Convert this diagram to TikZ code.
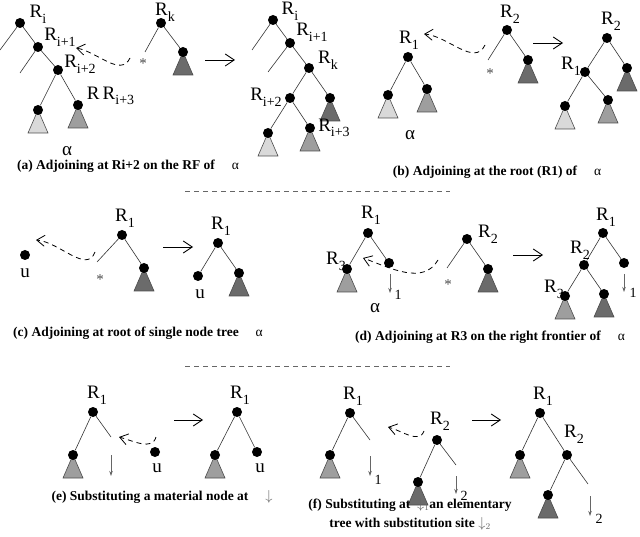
\documentclass[tikz,border=0pt]{standalone}
\usepackage{fontspec}
\setmainfont{Liberation Serif}
\usetikzlibrary{arrows.meta}
\pgfdeclarelayer{bg}
\pgfsetlayers{bg,main}
\definecolor{lite}{gray}{0.85}
\definecolor{midg}{gray}{0.62}
\definecolor{dark}{gray}{0.42}
\newcommand\R[1]{R\raisebox{-0.3em}{\fontsize{14}{14}\selectfont #1}}
\newcommand\subtree[2]{\begin{pgfonlayer}{bg}\draw[tri,fill=#2] (#1.center) -- ++(-10,23) -- ++(20,0) -- cycle;\end{pgfonlayer}}
\tikzset{
  dot/.style={circle, fill=black, inner sep=0pt, minimum size=10pt},
  lab/.style={font=\fontsize{19}{19}\selectfont, inner sep=0pt},
  star/.style={font=\fontsize{15}{15}\selectfont, inner sep=0pt, black!70},
  tri/.style={draw=black!70, line width=0.6pt},
  br/.style={draw=black!80, line width=0.6pt},
  adj/.style={dash pattern=on 5pt off 4pt, line width=0.8pt, -{Straight Barb[length=8pt,width=11pt]}},
  go/.style={line width=0.9pt, -{Straight Barb[length=9pt,width=12pt]}},
  sub/.style={black!60, line width=0.7pt, -{Stealth[length=5pt,width=3.5pt]}},
  caption/.style={font=\bfseries\fontsize{13.5}{18}\selectfont, align=center},
  sep/.style={black!60, line width=0.6pt, dash pattern=on 5pt off 4pt},
}
\begin{document}
\begin{tikzpicture}[x=1pt,y=-1pt]
\useasboundingbox (0,0) rectangle (640,537);

% (a) adjoining on the right frontier
\node[dot] (aRi) at (20,23) {};
\node[dot] (aRa) at (38,47) {};
\node[dot] (aRb) at (58,70) {};
\node[dot] (aLc) at (38,110) {};
\node[dot] (aRc) at (78,105) {};
\coordinate (aRiL) at (0,50);
\coordinate (aRaL) at (20,73);
\subtree{aLc}{lite}
\subtree{aRc}{midg}
\begin{pgfonlayer}{bg}
\draw[br] (aRi)--(aRiL) (aRi)--(aRa) (aRa)--(aRaL) (aRa)--(aRb) (aRb)--(aLc) (aRb)--(aRc);
\end{pgfonlayer}
\node[lab] at (38,14) {\R{i}};
\node[lab] at (60,37) {\R{i+1}};
\node[lab] at (80,64) {\R{i+2}};
\node[lab] at (102,96) {R\,\R{i+3}\hspace*{-0.9em}};
\node[lab] at (67,151) {α};

\node[dot] (aRk) at (161,23) {};
\node[dot] (aKc) at (183,52) {};
\coordinate (aStar) at (145,52);
\subtree{aKc}{dark}
\begin{pgfonlayer}{bg}
\draw[br] (aRk)--(aStar) (aRk)--(aKc);
\end{pgfonlayer}
\node[lab] at (165,12) {\R{k}};
\node[star] at (143,64) {*};
\coordinate (aFrom) at (130,58);
\coordinate (aTo) at (76,48);
\draw[adj] (aFrom) to[out=-115,in=-10] (aTo);
\coordinate (aGo1) at (205,60);
\coordinate (aGo2) at (235,60);
\draw[go] (aGo1)--(aGo2);

\node[dot] (bRi) at (273,20) {};
\node[dot] (bRa) at (290,43) {};
\node[dot] (bRk) at (309,68) {};
\node[dot] (bRb) at (290,98) {};
\node[dot] (bKc) at (330,98) {};
\node[dot] (bLc) at (268,133) {};
\node[dot] (bRc) at (310,128) {};
\coordinate (bRiL) at (252,50);
\coordinate (bRaL) at (268,72);
\subtree{bKc}{dark}
\subtree{bLc}{lite}
\subtree{bRc}{midg}
\begin{pgfonlayer}{bg}
\draw[br] (bRi)--(bRiL) (bRi)--(bRa) (bRa)--(bRaL) (bRa)--(bRk) (bRk)--(bRb) (bRk)--(bKc) (bRb)--(bLc) (bRb)--(bRc);
\end{pgfonlayer}
\node[lab] at (290,11) {\R{i}};
\node[lab] at (312,32) {\R{i+1}};
\node[lab] at (328,60) {\R{k}};
\node[lab] at (266,97) {\R{i+2}};
\node[lab] at (334,128) {\R{i+3}};
\node[caption] at (128,166) {(a) Adjoining at Ri+2 on the RF of \quad\mdseries α};

% (b) adjoining at the root
\node[dot] (cR1) at (408,57) {};
\node[dot] (cL) at (388,95) {};
\node[dot] (cR) at (427,89) {};
\subtree{cL}{lite}
\subtree{cR}{midg}
\begin{pgfonlayer}{bg}
\draw[br] (cR1)--(cL) (cR1)--(cR);
\end{pgfonlayer}
\node[lab] at (409,40) {\R{1}};
\node[lab] at (410,135) {α};
\node[dot] (cR2) at (507,30) {};
\node[dot] (cK) at (528,60) {};
\coordinate (cStar) at (488,60);
\subtree{cK}{dark}
\begin{pgfonlayer}{bg}
\draw[br] (cR2)--(cStar) (cR2)--(cK);
\end{pgfonlayer}
\node[lab] at (510,14) {\R{2}};
\node[star] at (490,74) {*};
\coordinate (cFrom) at (485,45);
\coordinate (cTo) at (424,34);
\draw[adj] (cFrom) to[out=-115,in=-5] (cTo);
\coordinate (cGo1) at (533,43);
\coordinate (cGo2) at (563,43);
\draw[go] (cGo1)--(cGo2);

\node[dot] (dR2) at (607,38) {};
\node[dot] (dR1) at (585,72) {};
\node[dot] (dK) at (627,68) {};
\node[dot] (dL) at (565,106) {};
\node[dot] (dR) at (608,100) {};
\subtree{dK}{dark}
\subtree{dL}{lite}
\subtree{dR}{midg}
\begin{pgfonlayer}{bg}
\draw[br] (dR2)--(dR1) (dR2)--(dK) (dR1)--(dL) (dR1)--(dR);
\end{pgfonlayer}
\node[lab] at (611,21) {\R{2}};
\node[lab] at (571,66) {\R{1}};
\node[caption] at (497,172) {(b) Adjoining at the root (R1) of \quad\mdseries α};

\coordinate (s1a) at (185,191);
\coordinate (s1b) at (450,191);
\draw[sep] (s1a)--(s1b);

% (c) single node tree
\node[dot] (eU) at (25,255) {};
\node[lab] at (25,273) {u};
\node[dot] (eR1) at (122,235) {};
\node[dot] (eK) at (144,268) {};
\coordinate (eStar) at (97,262);
\subtree{eK}{dark}
\begin{pgfonlayer}{bg}
\draw[br] (eR1)--(eStar) (eR1)--(eK);
\end{pgfonlayer}
\node[lab] at (125,218) {\R{1}};
\node[star] at (100,280) {*};
\coordinate (eFrom) at (95,252);
\coordinate (eTo) at (36,240);
\draw[adj] (eFrom) to[out=-110,in=-5] (eTo);
\coordinate (eGo1) at (163,247);
\coordinate (eGo2) at (193,247);
\draw[go] (eGo1)--(eGo2);
\node[dot] (fR1) at (218,243) {};
\node[dot] (fU) at (198,276) {};
\node[dot] (fK) at (239,273) {};
\subtree{fK}{dark}
\begin{pgfonlayer}{bg}
\draw[br] (fR1)--(fU) (fR1)--(fK);
\end{pgfonlayer}
\node[lab] at (221,226) {\R{1}};
\node[lab] at (200,294) {u};
\node[caption] at (138,333) {(c) Adjoining at root of single node tree \quad\mdseries α};

% (d) adjoining at R3
\node[dot] (gR1) at (368,233) {};
\node[dot] (gR3) at (347,269) {};
\node[dot] (gS) at (389,263) {};
\subtree{gR3}{midg}
\begin{pgfonlayer}{bg}
\draw[br] (gR1)--(gR3) (gR1)--(gS);
\end{pgfonlayer}
\coordinate (gS1) at (390,274);
\coordinate (gS2) at (390,293);
\draw[sub] (gS1)--(gS2);
\node[lab] at (398,295) {\fontsize{14}{14}\selectfont 1};
\node[lab] at (371,215) {\R{1}};
\node[lab] at (336,261) {\R{3}};
\node[lab] at (375,308) {α};
\node[dot] (gR2) at (467,239) {};
\node[dot] (gK) at (488,269) {};
\coordinate (gStar) at (447,268);
\subtree{gK}{dark}
\begin{pgfonlayer}{bg}
\draw[br] (gR2)--(gStar) (gR2)--(gK);
\end{pgfonlayer}
\node[lab] at (488,234) {\R{2}};
\node[star] at (448,285) {*};
\coordinate (gFrom) at (438,260);
\coordinate (gTo) at (363,258);
\draw[adj] (gFrom) to[out=-120,in=-20] (gTo);
\coordinate (gGo1) at (513,255);
\coordinate (gGo2) at (543,255);
\draw[go] (gGo1)--(gGo2);
\node[dot] (hR1) at (603,233) {};
\node[dot] (hR2) at (584,265) {};
\node[dot] (hS) at (624,263) {};
\node[dot] (hR3) at (565,296) {};
\node[dot] (hK) at (604,294) {};
\subtree{hR3}{midg}
\subtree{hK}{dark}
\begin{pgfonlayer}{bg}
\draw[br] (hR1)--(hR2) (hR1)--(hS) (hR2)--(hR3) (hR2)--(hK);
\end{pgfonlayer}
\coordinate (hS1) at (624,274);
\coordinate (hS2) at (624,292);
\draw[sub] (hS1)--(hS2);
\node[lab] at (633,293) {\fontsize{14}{14}\selectfont 1};
\node[lab] at (606,217) {\R{1}};
\node[lab] at (580,250) {\R{2}};
\node[lab] at (554,289) {\R{3}};
\node[caption] at (490,337) {(d) Adjoining at R3 on the right frontier of \quad\mdseries α};

\coordinate (s2a) at (185,366);
\coordinate (s2b) at (450,366);
\draw[sep] (s2a)--(s2b);

% (e) substitution of a material node
\node[dot] (iR1) at (93,412) {};
\node[dot] (iL) at (73,455) {};
\coordinate (iS) at (111,437);
\subtree{iL}{midg}
\begin{pgfonlayer}{bg}
\draw[br] (iR1)--(iL) (iR1)--(iS);
\end{pgfonlayer}
\coordinate (iS1) at (111,455);
\coordinate (iS2) at (111,476);
\draw[sub] (iS1)--(iS2);
\node[lab] at (97,395) {\R{1}};
\node[dot] (iU) at (155,452) {};
\node[lab] at (157,468) {u};
\coordinate (iFrom) at (156,437);
\coordinate (iTo) at (119,437);
\draw[adj] (iFrom) to[out=-105,in=-15] (iTo);
\coordinate (iGo1) at (174,420);
\coordinate (iGo2) at (203,420);
\draw[go] (iGo1)--(iGo2);
\node[dot] (jR1) at (237,412) {};
\node[dot] (jL) at (215,455) {};
\node[dot] (jU) at (257,452) {};
\subtree{jL}{midg}
\begin{pgfonlayer}{bg}
\draw[br] (jR1)--(jL) (jR1)--(jU);
\end{pgfonlayer}
\node[lab] at (240,395) {\R{1}};
\node[lab] at (260,468) {u};
\node[caption] at (162,497) {(e) Substituting a material node at \quad\mdseries\color{black!60}$\downarrow$};

% (f) substitution of an elementary tree
\node[dot] (kR1) at (350,413) {};
\node[dot] (kL) at (330,455) {};
\coordinate (kS) at (370,440);
\subtree{kL}{midg}
\begin{pgfonlayer}{bg}
\draw[br] (kR1)--(kL) (kR1)--(kS);
\end{pgfonlayer}
\coordinate (kS1) at (370,456);
\coordinate (kS2) at (370,476);
\draw[sub] (kS1)--(kS2);
\node[lab] at (378,480) {\fontsize{14}{14}\selectfont 1};
\node[lab] at (353,396) {\R{1}};
\node[dot] (kR2) at (437,440) {};
\node[dot] (kL2) at (418,482) {};
\coordinate (kS3) at (456,465);
\subtree{kL2}{dark}
\begin{pgfonlayer}{bg}
\draw[br] (kR2)--(kL2) (kR2)--(kS3);
\end{pgfonlayer}
\coordinate (kS4) at (456,476);
\coordinate (kS5) at (456,494);
\draw[sub] (kS4)--(kS5);
\node[lab] at (464,496) {\fontsize{14}{14}\selectfont 2};
\node[lab] at (440,421) {\R{2}};
\coordinate (kFrom) at (424,431);
\coordinate (kTo) at (388,427);
\draw[adj] (kFrom) to[out=-110,in=-15] (kTo);
\coordinate (kGo1) at (472,420);
\coordinate (kGo2) at (501,420);
\draw[go] (kGo1)--(kGo2);
\node[dot] (lR1) at (540,413) {};
\node[dot] (lL) at (520,455) {};
\node[dot] (lR2) at (567,455) {};
\node[dot] (lL2) at (548,495) {};
\coordinate (lS) at (588,484);
\subtree{lL}{midg}
\subtree{lL2}{dark}
\begin{pgfonlayer}{bg}
\draw[br] (lR1)--(lL) (lR1)--(lR2) (lR2)--(lL2) (lR2)--(lS);
\end{pgfonlayer}
\coordinate (lS1) at (590,496);
\coordinate (lS2) at (590,516);
\draw[sub] (lS1)--(lS2);
\node[lab] at (599,519) {\fontsize{14}{14}\selectfont 2};
\node[lab] at (543,396) {\R{1}};
\node[lab] at (574,434) {\R{2}};
\node[caption] at (410,514) {(f) Substituting at \ {\mdseries\color{black!60}$\downarrow_1$}an elementary\\[1pt] tree with substitution site {\mdseries\color{black!60}$\downarrow_2$}};
\end{tikzpicture}
\end{document}
